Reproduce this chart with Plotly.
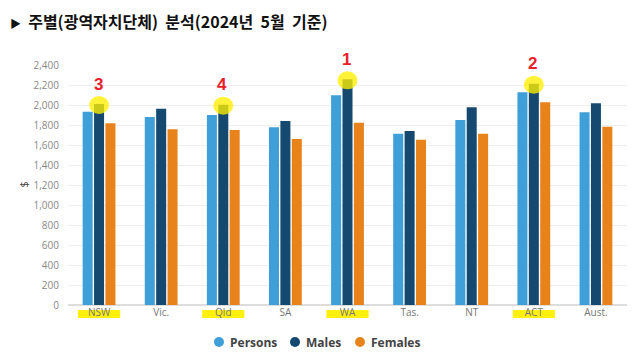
import plotly.graph_objects as go

categories = ["NSW", "Vic.", "Qld", "SA", "WA", "Tas.", "NT", "ACT", "Aust."]
persons = [1933, 1880, 1900, 1777, 2097, 1713, 1850, 2127, 1927]
males = [2010, 1963, 2003, 1840, 2257, 1740, 1977, 2213, 2017]
females = [1817, 1757, 1750, 1660, 1823, 1653, 1713, 2027, 1783]
series_names = ["Persons", "Males", "Females"]
colors = ["#3FA0D9", "#16496F", "#E8821A"]
# hand-drawn ranking marks (category -> rank)
ranks = {"NSW": "3", "Qld": "4", "WA": "1", "ACT": "2"}
y_ticks = list(range(0, 2401, 200))
title_text = "주별(광역자치단체)  분석(2024년  5월  기준)"

fig = go.Figure()
for name, vals, col in zip(series_names, [persons, males, females], colors):
    fig.add_trace(go.Bar(x=categories, y=vals, name=name, marker_color=col,
                         marker_line_width=0, showlegend=False))

L, R, T, B = 68, 10, 65, 49
PW, PH = 637 - L - R, 354 - T - B


def px_x(p):
    return (p - L) / PW


def px_y(p):
    return (354 - B - p) / PH


shapes = []
annotations = []
for cat, r in ranks.items():
    i = categories.index(cat)
    mv = males[i]
    shapes.append(dict(type="circle", xref="x", yref="y", x0=i - 0.16, x1=i + 0.16,
                       y0=mv - 100, y1=mv + 80, fillcolor="rgba(255,238,0,0.78)",
                       line_width=0, layer="above"))
    shapes.append(dict(type="rect", xref="x", yref="paper", x0=i - 0.34, x1=i + 0.34,
                       y0=px_y(318), y1=px_y(310), fillcolor="rgba(255,240,0,0.95)",
                       line_width=0, layer="below"))
    annotations.append(dict(x=i, y=mv, xref="x", yref="y", text="<b>" + r + "</b>",
                            showarrow=False, yshift=20, xshift=-1,
                            font=dict(size=17, color="#E8202A", family="Liberation Sans")))

annotations.append(dict(x=px_x(13), y=px_y(185), xref="paper", yref="paper", text="$",
                        showarrow=False, textangle=-90,
                        font=dict(size=11, color="#444444", family="Open Sans")))

# legend drawn as colored dots + labels
legend_x = [219, 295, 360]
for name, col, lx in zip(series_names, colors, legend_x):
    shapes.append(dict(type="circle", xref="paper", yref="paper",
                       x0=px_x(lx - 5), x1=px_x(lx + 5), y0=px_y(347), y1=px_y(337),
                       fillcolor=col, line_width=0))
    annotations.append(dict(x=px_x(lx + 9), y=px_y(342), xref="paper", yref="paper",
                            xanchor="left", yanchor="middle", text="<b>" + name + "</b>",
                            showarrow=False,
                            font=dict(size=12, color="#444444", family="Open Sans")))

fig.update_layout(
    width=637, height=354,
    margin=dict(l=L, r=R, t=T, b=B),
    paper_bgcolor="white", plot_bgcolor="white",
    barmode="group", bargap=0.45, bargroupgap=0.12,
    showlegend=False,
    font=dict(family="Open Sans", color="#666666"),
    title=dict(text='<span style="font-size:11px">▶</span>  <b>' + title_text + "</b>",
               x=10 / 637, xref="container", xanchor="left",
               y=1 - 22 / 354, yref="container", yanchor="middle",
               font=dict(size=16, color="#111111", family="Noto Sans CJK KR")),
    shapes=shapes, annotations=annotations,
    xaxis=dict(showgrid=False, showline=False, ticks="",
               tickfont=dict(size=10, color="#777777")),
    yaxis=dict(range=[0, 2400], tickvals=y_ticks, tickformat=",", showgrid=True,
               gridcolor="#EEEEEE", zeroline=True, zerolinecolor="#DDDDDD",
               tickfont=dict(size=10, color="#888888"), ticklabelstandoff=8),
)
fig.write_html("out.html")
